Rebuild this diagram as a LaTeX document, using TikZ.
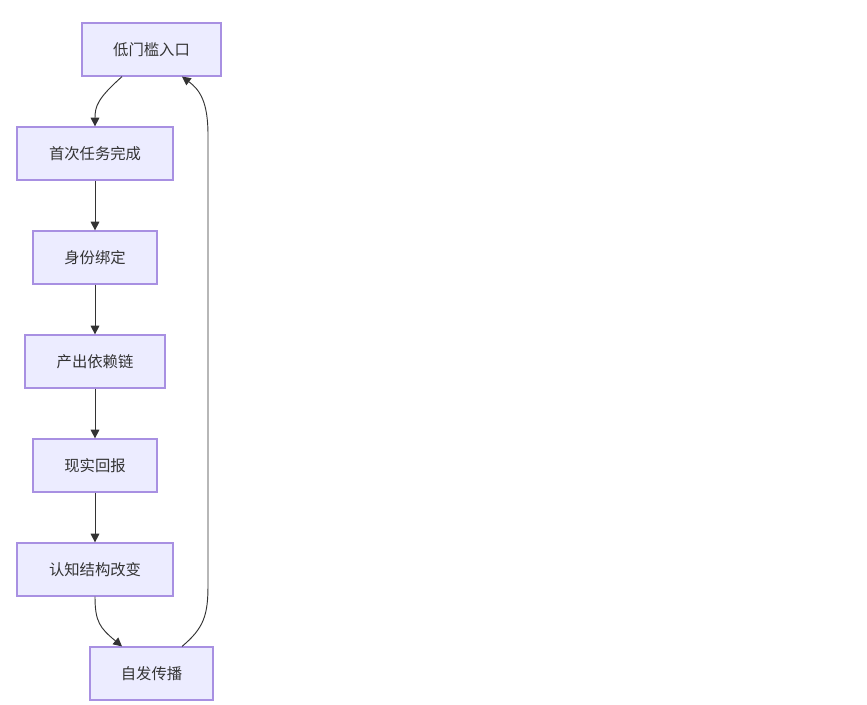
\documentclass[tikz,border=0pt]{standalone}
\usepackage{fontspec}
\newfontfamily\cjk{Noto Sans CJK SC}
\usetikzlibrary{arrows.meta}
\definecolor{nodefill}{HTML}{ECECFF}
\definecolor{nodeline}{HTML}{A890E2}
\definecolor{edgeline}{HTML}{333333}
\definecolor{txt}{HTML}{333333}
\tikzset{
  box/.style={draw=nodeline, fill=nodefill, line width=0.9pt, minimum height=39.75pt,
    inner sep=0pt, text=txt, font=\cjk\fontsize{11.5}{14}\selectfont},
  link/.style={draw=edgeline, line width=0.7pt,
    -{Triangle[length=6.5pt,width=6.5pt]}}
}
\begin{document}
\begin{tikzpicture}[x=0.75pt,y=-0.75pt]
\useasboundingbox (0,0) rectangle (867,705);
\node[box, minimum width=104.25pt] (n1) at (151.5,49.5) {低门槛入口};
\node[box, minimum width=117pt] (n2) at (95,153.5) {首次任务完成};
\node[box, minimum width=93pt] (n3) at (95,257.5) {身份绑定};
\node[box, minimum width=105pt] (n4) at (95,361.5) {产出依赖链};
\node[box, minimum width=93pt] (n5) at (95,465.5) {现实回报};
\node[box, minimum width=117pt] (n6) at (95,569.5) {认知结构改变};
\node[box, minimum width=92.25pt] (n7) at (151.5,673.5) {自发传播};

\draw[link] ([xshift=-22.1pt]n1.south) .. controls (98,98) and (95,106) .. (n2.north);
\draw[link] (n2) -- (n3);
\draw[link] (n3) -- (n4);
\draw[link] (n4) -- (n5);
\draw[link] (n5) -- (n6);
\draw[link] (n6.south) .. controls (95,622) and (100,628) .. ([xshift=-22.1pt]n7.north);
\draw[link] ([xshift=22.9pt]n7.north) .. controls (204,628) and (208,615) .. (208,585)
  -- (208,135) .. controls (208,102) and (200,90) .. ([xshift=22.9pt]n1.south);
\end{tikzpicture}
\end{document}
